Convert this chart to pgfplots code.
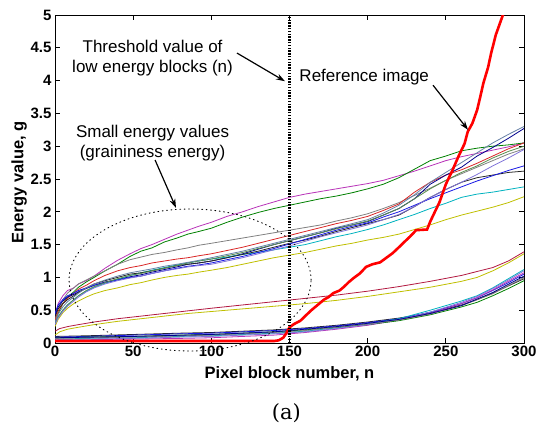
\documentclass[border=0pt]{standalone}
\usepackage{pgfplots}
\pgfplotsset{compat=1.18}
\usepackage{fontspec}
\setmainfont{Liberation Sans}
\newfontfamily\capfont{DejaVu Serif}
\usetikzlibrary{arrows.meta}

\definecolor{cMag}{rgb}{0.72,0.2,0.72}
\definecolor{cGreen}{rgb}{0,0.5,0}
\definecolor{cGrey}{rgb}{0.5,0.5,0.5}
\definecolor{cRed}{rgb}{0.85,0.15,0.15}
\definecolor{cNavy}{rgb}{0,0,0.55}
\definecolor{cCyan}{rgb}{0,0.7,0.75}
\definecolor{cYellow}{rgb}{0.75,0.75,0}
\definecolor{cBlack}{rgb}{0.15,0.15,0.15}
\definecolor{cBlue}{rgb}{0.1,0.1,0.9}
\definecolor{cOlive}{rgb}{0.35,0.55,0.3}
\definecolor{cPurple}{rgb}{0.5,0.45,0.85}
\definecolor{cSlate}{rgb}{0.4,0.5,0.65}
\definecolor{cDarkRed}{rgb}{0.7,0.1,0.25}
\definecolor{cRef}{rgb}{1,0,0}

\begin{document}
\begin{tikzpicture}
\begin{axis}[
  scale only axis, width=469bp, height=328bp,
  xmin=0, xmax=300, ymin=0, ymax=5,
  xtick={0,50,100,150,200,250,300},
  xticklabels={0,50,100,150,200,250,300},
  ytick={0,0.5,1,1.5,2,2.5,3,3.5,4,4.5,5},
  yticklabels={0,0.5,1,1.5,2,2.5,3,3.5,4,4.5,5},
  tick align=inside, major tick length=5bp,
  ticklabel style={font=\fontsize{15bp}{18bp}\selectfont\bfseries},
  axis line style={line width=0.8bp},
  every tick/.style={black, line width=0.7bp},
  clip mode=individual,
  every axis plot/.append style={line width=0.8bp},
]
% --- upper family of curves
\addplot[cMag] coordinates {(0,0.42)(2,0.6)(5,0.72)(8,0.8)(12,0.84)(15,0.9)(20,0.95)(25,1.02)(32,1.14)(40,1.26)(48,1.36)(55,1.44)(62,1.5)(70,1.58)(78,1.66)(85,1.72)(92,1.78)(100,1.84)(110,1.93)(120,2.0)(130,2.08)(140,2.15)(150,2.22)(160,2.27)(170,2.31)(180,2.35)(190,2.39)(200,2.43)(210,2.48)(220,2.55)(230,2.62)(240,2.7)(250,2.78)(260,2.84)(270,2.89)(280,2.94)(290,2.99)(300,3.05)};
\addplot[cGreen] coordinates {(0,0.3)(2,0.45)(5,0.6)(8,0.7)(12,0.78)(15,0.85)(20,0.93)(25,1.0)(32,1.1)(40,1.2)(48,1.32)(55,1.4)(62,1.45)(70,1.54)(78,1.6)(85,1.66)(92,1.7)(100,1.75)(110,1.84)(120,1.92)(130,1.99)(140,2.05)(150,2.1)(160,2.15)(170,2.2)(180,2.24)(190,2.29)(200,2.35)(210,2.42)(220,2.52)(230,2.65)(240,2.78)(250,2.85)(260,2.93)(270,2.97)(280,3.0)(290,3.02)(300,3.05)};
\addplot[cGrey] coordinates {(0,0.38)(2,0.52)(5,0.66)(8,0.76)(12,0.84)(15,0.9)(20,0.96)(25,1.02)(32,1.1)(40,1.2)(48,1.27)(55,1.31)(62,1.35)(70,1.38)(78,1.42)(85,1.45)(92,1.49)(100,1.52)(110,1.56)(120,1.6)(130,1.64)(140,1.68)(150,1.72)(160,1.76)(170,1.8)(180,1.86)(190,1.91)(200,1.97)(210,2.05)(220,2.14)(230,2.25)(240,2.36)(250,2.48)(260,2.58)(270,2.68)(280,2.78)(290,2.88)(300,2.96)};
\addplot[cRed] coordinates {(0,0.35)(2,0.48)(5,0.6)(8,0.68)(12,0.76)(15,0.82)(20,0.88)(25,0.95)(32,1.03)(40,1.1)(48,1.15)(55,1.18)(62,1.22)(70,1.25)(78,1.28)(85,1.3)(92,1.33)(100,1.36)(110,1.41)(120,1.46)(130,1.52)(140,1.58)(150,1.64)(160,1.7)(170,1.76)(180,1.82)(190,1.87)(200,1.93)(210,2.02)(220,2.12)(230,2.3)(240,2.45)(250,2.56)(260,2.64)(270,2.74)(280,2.85)(290,2.96)(300,3.05)};
\addplot[cNavy] coordinates {(0,0.42)(2,0.55)(5,0.64)(8,0.7)(12,0.74)(15,0.78)(20,0.83)(25,0.88)(32,0.93)(40,0.97)(48,1.01)(55,1.04)(62,1.08)(70,1.12)(78,1.16)(85,1.2)(92,1.22)(100,1.25)(110,1.3)(120,1.36)(130,1.43)(140,1.5)(150,1.56)(160,1.62)(170,1.68)(180,1.75)(190,1.8)(200,1.85)(210,1.95)(220,2.05)(230,2.2)(240,2.42)(250,2.56)(260,2.68)(270,2.85)(280,2.98)(290,3.12)(300,3.27)};
\addplot[cCyan] coordinates {(0,0.3)(2,0.4)(5,0.5)(8,0.58)(12,0.66)(15,0.72)(20,0.79)(25,0.85)(32,0.91)(40,0.97)(48,1.03)(55,1.07)(62,1.11)(70,1.15)(78,1.19)(85,1.22)(92,1.25)(100,1.28)(110,1.31)(120,1.35)(130,1.38)(140,1.42)(150,1.46)(160,1.5)(170,1.56)(180,1.62)(190,1.67)(200,1.73)(210,1.8)(220,1.88)(230,1.96)(240,2.05)(250,2.13)(260,2.22)(270,2.27)(280,2.3)(290,2.34)(300,2.38)};
\addplot[cYellow] coordinates {(0,0.25)(2,0.36)(5,0.46)(8,0.53)(12,0.6)(15,0.64)(20,0.7)(25,0.75)(32,0.8)(40,0.84)(48,0.89)(55,0.92)(62,0.96)(70,1.0)(78,1.03)(85,1.05)(92,1.08)(100,1.11)(110,1.15)(120,1.2)(130,1.25)(140,1.3)(150,1.34)(160,1.38)(170,1.43)(180,1.48)(190,1.52)(200,1.57)(210,1.61)(220,1.66)(230,1.73)(240,1.8)(250,1.88)(260,1.95)(270,2.01)(280,2.07)(290,2.14)(300,2.23)};
\addplot[cBlack] coordinates {(0,0.4)(2,0.52)(5,0.6)(8,0.66)(12,0.72)(15,0.77)(20,0.84)(25,0.9)(32,0.95)(40,1.0)(48,1.05)(55,1.07)(62,1.1)(70,1.14)(78,1.18)(85,1.2)(92,1.22)(100,1.25)(110,1.3)(120,1.35)(130,1.4)(140,1.46)(150,1.52)(160,1.57)(170,1.63)(180,1.7)(190,1.76)(200,1.82)(210,1.88)(220,1.95)(230,2.08)(240,2.22)(250,2.34)(260,2.45)(270,2.52)(280,2.56)(290,2.6)(300,2.62)};
\addplot[cBlue] coordinates {(0,0.45)(2,0.58)(5,0.66)(8,0.72)(12,0.76)(15,0.8)(20,0.84)(25,0.88)(32,0.92)(40,0.96)(48,1.0)(55,1.02)(62,1.06)(70,1.1)(78,1.14)(85,1.17)(92,1.19)(100,1.22)(110,1.27)(120,1.32)(130,1.38)(140,1.44)(150,1.51)(160,1.58)(170,1.65)(180,1.72)(190,1.78)(200,1.83)(210,1.92)(220,2.0)(230,2.1)(240,2.2)(250,2.29)(260,2.38)(270,2.47)(280,2.55)(290,2.63)(300,2.7)};
\addplot[cOlive] coordinates {(0,0.3)(2,0.4)(5,0.5)(8,0.58)(12,0.66)(15,0.72)(20,0.8)(25,0.86)(32,0.92)(40,0.98)(48,1.03)(55,1.06)(62,1.1)(70,1.14)(78,1.18)(85,1.22)(92,1.25)(100,1.28)(110,1.33)(120,1.38)(130,1.44)(140,1.5)(150,1.56)(160,1.62)(170,1.68)(180,1.74)(190,1.8)(200,1.86)(210,1.95)(220,2.05)(230,2.2)(240,2.35)(250,2.48)(260,2.6)(270,2.7)(280,2.82)(290,2.92)(300,3.0)};
\addplot[cPurple] coordinates {(0,0.28)(2,0.38)(5,0.48)(8,0.56)(12,0.64)(15,0.7)(20,0.78)(25,0.84)(32,0.9)(40,0.95)(48,0.99)(55,1.02)(62,1.06)(70,1.1)(78,1.13)(85,1.16)(92,1.18)(100,1.2)(110,1.25)(120,1.3)(130,1.36)(140,1.42)(150,1.48)(160,1.55)(170,1.62)(180,1.68)(190,1.74)(200,1.8)(210,1.88)(220,1.96)(230,2.08)(240,2.22)(250,2.34)(260,2.45)(270,2.57)(280,2.7)(290,2.82)(300,2.95)};
\addplot[cSlate] coordinates {(0,0.32)(2,0.44)(5,0.55)(8,0.63)(12,0.7)(15,0.76)(20,0.84)(25,0.9)(32,0.96)(40,1.02)(48,1.07)(55,1.1)(62,1.13)(70,1.17)(78,1.2)(85,1.23)(92,1.26)(100,1.3)(110,1.35)(120,1.4)(130,1.46)(140,1.52)(150,1.58)(160,1.64)(170,1.7)(180,1.76)(190,1.82)(200,1.88)(210,1.98)(220,2.1)(230,2.26)(240,2.45)(250,2.6)(260,2.75)(270,2.9)(280,3.05)(290,3.18)(300,3.3)};
% --- middle pair
\addplot[cDarkRed] coordinates {(0,0.18)(3,0.22)(8,0.25)(15,0.28)(25,0.32)(40,0.37)(55,0.41)(70,0.45)(85,0.49)(100,0.53)(120,0.58)(140,0.63)(160,0.68)(180,0.73)(200,0.79)(220,0.86)(240,0.94)(260,1.03)(270,1.09)(280,1.15)(290,1.25)(300,1.39)};
\addplot[cYellow] coordinates {(0,0.12)(3,0.17)(8,0.21)(15,0.24)(25,0.28)(40,0.33)(55,0.37)(70,0.41)(85,0.45)(100,0.48)(120,0.52)(140,0.56)(160,0.6)(180,0.65)(200,0.71)(220,0.78)(240,0.85)(260,0.94)(270,1.0)(280,1.1)(290,1.22)(300,1.36)};
% --- lower family
\addplot[cBlack] coordinates {(0,0.1)(20,0.11)(50,0.13)(80,0.15)(100,0.16)(120,0.18)(140,0.2)(160,0.23)(180,0.27)(200,0.32)(220,0.38)(240,0.46)(260,0.58)(270,0.66)(280,0.76)(290,0.87)(300,0.98)};
\addplot[cBlue] coordinates {(0,0.09)(20,0.1)(50,0.12)(80,0.14)(100,0.15)(120,0.17)(140,0.19)(160,0.22)(180,0.26)(200,0.31)(220,0.37)(240,0.47)(260,0.6)(270,0.69)(280,0.8)(290,0.92)(300,1.05)};
\addplot[cCyan] coordinates {(0,0.06)(20,0.07)(50,0.08)(80,0.1)(100,0.11)(120,0.13)(140,0.15)(160,0.18)(180,0.23)(200,0.29)(220,0.37)(240,0.5)(260,0.64)(270,0.72)(280,0.84)(290,0.98)(300,1.12)};
\addplot[cMag] coordinates {(0,0.04)(20,0.05)(50,0.06)(80,0.07)(100,0.08)(120,0.1)(140,0.12)(160,0.16)(180,0.21)(200,0.27)(220,0.35)(240,0.45)(260,0.6)(270,0.69)(280,0.81)(290,0.94)(300,1.07)};
\addplot[cGreen] coordinates {(0,0.08)(20,0.09)(50,0.1)(80,0.12)(100,0.13)(120,0.15)(140,0.17)(160,0.2)(180,0.24)(200,0.28)(220,0.34)(240,0.43)(260,0.55)(270,0.62)(280,0.72)(290,0.83)(300,0.95)};
\addplot[cPurple] coordinates {(0,0.05)(20,0.06)(50,0.07)(80,0.09)(100,0.1)(120,0.12)(140,0.14)(160,0.17)(180,0.22)(200,0.28)(220,0.36)(240,0.47)(260,0.62)(270,0.71)(280,0.83)(290,0.96)(300,1.1)};
\addplot[cGrey] coordinates {(0,0.07)(50,0.09)(100,0.12)(140,0.16)(160,0.19)(180,0.24)(200,0.29)(220,0.35)(240,0.44)(260,0.57)(280,0.75)(300,1.0)};
\addplot[cNavy] coordinates {(0,0.08)(50,0.1)(100,0.13)(140,0.17)(160,0.21)(180,0.25)(200,0.3)(220,0.36)(240,0.45)(260,0.57)(280,0.77)(300,1.02)};
% --- reference image curve
\addplot[cRef, line width=2.6bp] coordinates {(0,0.03)(140,0.03)(143,0.04)(146,0.08)(148,0.15)(150,0.24)(153,0.29)(157,0.34)(160,0.41)(164,0.5)(168,0.58)(172,0.66)(175,0.7)(178,0.76)(182,0.8)(185,0.86)(188,0.93)(191,0.99)(195,1.06)(199,1.16)(203,1.2)(208,1.23)(212,1.3)(216,1.37)(220,1.46)(223,1.53)(227,1.62)(231,1.72)(238,1.73)(240,1.85)(243,2.0)(246,2.15)(250,2.42)(254,2.62)(258,2.84)(262,3.04)(264,3.22)(267,3.35)(270,3.55)(272,3.75)(274,3.96)(277,4.2)(279,4.42)(282,4.7)(285,4.9)(288,5.1)};
% --- threshold line
\addplot[black, line width=2.4bp, dash pattern=on 1.4bp off 1.4bp] coordinates {(150,0)(150,5)};

% --- annotations
\draw[black, line width=0.9bp, dash pattern=on 0.9bp off 3.5bp, line cap=round]
  (axis cs:86.4,0.96) ellipse [x radius=121bp, y radius=71bp];
\draw[-{Stealth[length=9bp,width=6bp]}, line width=1.2bp] (axis cs:116.4,4.42) -- (axis cs:147.1,3.99);
\draw[-{Stealth[length=9bp,width=6bp]}, line width=1.2bp] (axis cs:241.8,3.93) -- (axis cs:264.2,3.25);
\draw[-{Stealth[length=9bp,width=6bp]}, line width=1.2bp] (axis cs:64.0,2.79) -- (axis cs:77.4,2.06);
\node[align=center, inner sep=0pt, font=\fontsize{17bp}{20bp}\selectfont] at (axis cs:62.4,4.345) {Threshold value of\\low energy blocks (n)};
\node[align=center, inner sep=0pt, font=\fontsize{17bp}{20bp}\selectfont] at (axis cs:62.4,3.05) {Small energy values\\(graininess energy)};
\node[inner sep=0pt, font=\fontsize{17bp}{20bp}\selectfont] at (axis cs:197.8,4.06) {Reference image};

% --- axis labels and caption
\node[anchor=base, inner sep=0pt, font=\fontsize{16.5bp}{19bp}\selectfont\bfseries] at (axis cs:150,-0.534) {Pixel block number, n};
\node[rotate=90, inner sep=0pt, font=\fontsize{16.5bp}{19bp}\selectfont\bfseries] at (axis cs:-23,2.45) {Energy value, g};
\node[anchor=base, inner sep=0pt, font=\capfont\fontsize{21bp}{25bp}\selectfont] at (axis cs:148,-1.16) {(a)};

\coordinate (O) at (rel axis cs:0,0);
\end{axis}
\pgfresetboundingbox
\path[use as bounding box] (O) ++(-55bp,-83bp) rectangle ++(536bp,426bp);
\end{tikzpicture}
\end{document}
